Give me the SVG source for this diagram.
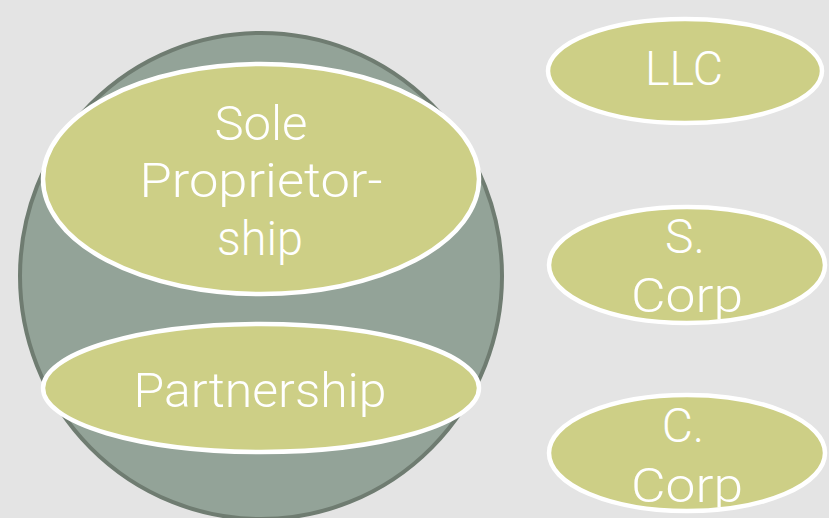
<svg xmlns="http://www.w3.org/2000/svg" width="829" height="518" viewBox="0 0 829 518">
  <style>
    .bg { fill: #e4e4e4; }
    .outer { fill: #93a398; stroke: #6f7c71; stroke-width: 4; }
    .node { fill: #cdcf86; stroke: #ffffff; stroke-width: 4.5; }
    .lbl { fill: #ffffff; font-family: Roboto, "Liberation Sans", Arial, sans-serif; font-weight: 300; font-size: 48px; text-anchor: middle; }
  </style>
  <defs>
    <clipPath id="clipS"><ellipse cx="687" cy="265" rx="138" ry="56"/></clipPath>
    <clipPath id="clipC"><ellipse cx="687" cy="453" rx="138" ry="56"/></clipPath>
  </defs>
  <rect class="bg" x="0" y="0" width="829" height="518"/>
  <g id="group-circle">
    <ellipse class="outer" cx="261" cy="276" rx="241" ry="243"/>
  </g>
  <g id="node-sole">
    <ellipse class="node" cx="261" cy="179" rx="218" ry="115"/>
    <text class="lbl" x="261" y="140" textLength="93" lengthAdjust="spacingAndGlyphs">Sole</text>
    <text class="lbl" x="261" y="197" textLength="243" lengthAdjust="spacingAndGlyphs">Proprietor-</text>
    <text class="lbl" x="260" y="255" textLength="86" lengthAdjust="spacingAndGlyphs">ship</text>
  </g>
  <g id="node-partnership">
    <ellipse class="node" cx="261" cy="388" rx="218" ry="64"/>
    <text class="lbl" x="260" y="407" textLength="253" lengthAdjust="spacingAndGlyphs">Partnership</text>
  </g>
  <g id="node-llc">
    <ellipse class="node" cx="685" cy="71" rx="137" ry="52"/>
    <text class="lbl" x="684" y="85" textLength="78" lengthAdjust="spacingAndGlyphs">LLC</text>
  </g>
  <g id="node-scorp">
    <ellipse class="node" cx="687" cy="265" rx="138" ry="58"/>
    <g clip-path="url(#clipS)">
      <text class="lbl" x="685" y="253">S.</text>
      <text class="lbl" x="687" y="312" textLength="112" lengthAdjust="spacingAndGlyphs">Corp</text>
    </g>
  </g>
  <g id="node-ccorp">
    <ellipse class="node" cx="687" cy="453" rx="138" ry="58"/>
    <g clip-path="url(#clipC)">
      <text class="lbl" x="683" y="442">C.</text>
      <text class="lbl" x="687" y="502" textLength="112" lengthAdjust="spacingAndGlyphs">Corp</text>
    </g>
  </g>
  <g id="connectors"/>
</svg>
